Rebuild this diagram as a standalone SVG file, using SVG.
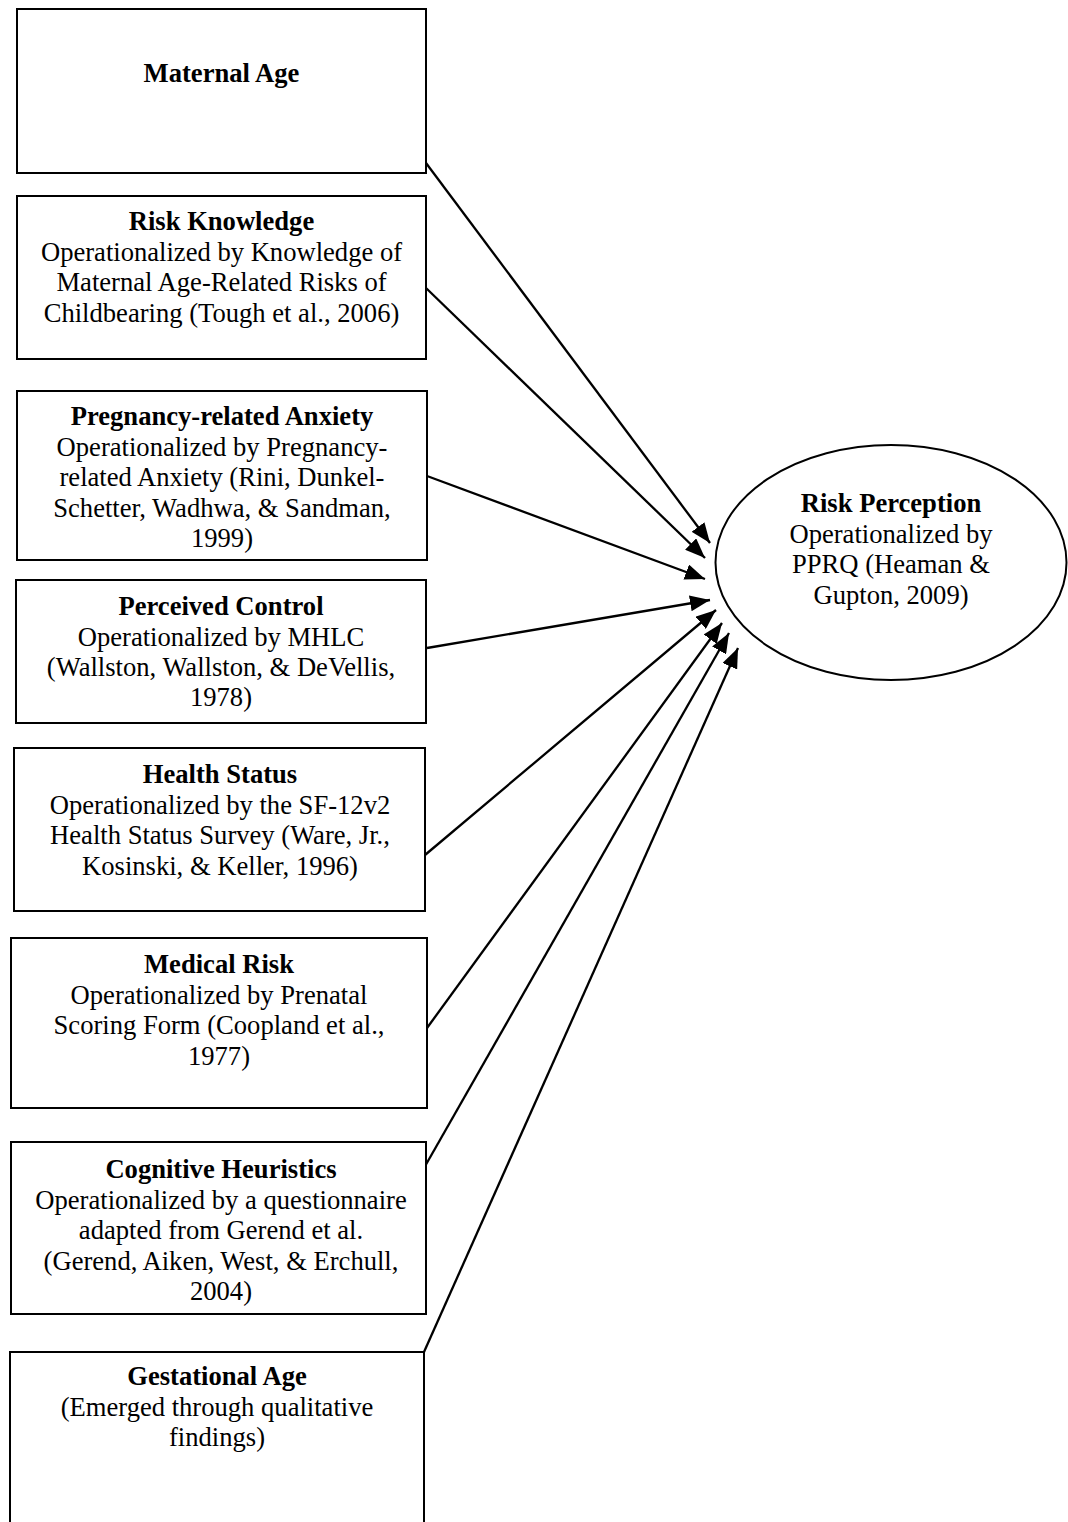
<svg xmlns="http://www.w3.org/2000/svg" width="1068" height="1522" viewBox="0 0 1068 1522">
<style>
.box{fill:#fff;stroke:#000;stroke-width:2}
.t{font-family:"Liberation Serif","Times New Roman",serif;font-size:26.6px;fill:#000;text-anchor:middle}
.b{font-weight:bold}
.c{fill:none;stroke:#000;stroke-width:2.3}
</style>
<defs>
<marker id="ah" markerUnits="userSpaceOnUse" markerWidth="21" markerHeight="16" refX="20" refY="8" orient="auto">
<path d="M0,0 L20,8 L0,16 z" fill="#000"/>
</marker>
</defs>
<rect width="1068" height="1522" fill="#fff"/>
<g id="connectors">
<line class="c" x1="426" y1="163" x2="710" y2="543" marker-end="url(#ah)"/>
<line class="c" x1="426" y1="288" x2="705" y2="558" marker-end="url(#ah)"/>
<line class="c" x1="427" y1="476" x2="705" y2="579" marker-end="url(#ah)"/>
<line class="c" x1="427" y1="648" x2="710" y2="600" marker-end="url(#ah)"/>
<line class="c" x1="425" y1="855" x2="716" y2="610" marker-end="url(#ah)"/>
<line class="c" x1="427" y1="1028" x2="722" y2="623" marker-end="url(#ah)"/>
<line class="c" x1="424" y1="1168" x2="729" y2="633" marker-end="url(#ah)"/>
<line class="c" x1="424" y1="1352" x2="738" y2="648" marker-end="url(#ah)"/>
</g>
<g id="maternal-age">
<rect class="box" x="17" y="9" width="409" height="164"/>
<text class="t b" x="221.5" y="82">Maternal Age</text>
</g>
<g id="risk-knowledge">
<rect class="box" x="17" y="196" width="409" height="163"/>
<text class="t b" x="221.5" y="230">Risk Knowledge</text>
<text class="t" x="221.5" y="260.5">Operationalized by Knowledge of</text>
<text class="t" x="221.5" y="291">Maternal Age-Related Risks of</text>
<text class="t" x="221.5" y="321.5">Childbearing (Tough et al., 2006)</text>
</g>
<g id="pregnancy-anxiety">
<rect class="box" x="17" y="391" width="410" height="169"/>
<text class="t b" x="222" y="425">Pregnancy-related Anxiety</text>
<text class="t" x="222" y="455.5">Operationalized by Pregnancy-</text>
<text class="t" x="222" y="486">related Anxiety (Rini, Dunkel-</text>
<text class="t" x="222" y="516.5">Schetter, Wadhwa, &amp; Sandman,</text>
<text class="t" x="222" y="547">1999)</text>
</g>
<g id="perceived-control">
<rect class="box" x="16" y="580" width="410" height="143"/>
<text class="t b" x="221" y="615">Perceived Control</text>
<text class="t" x="221" y="645.5">Operationalized by MHLC</text>
<text class="t" x="221" y="676">(Wallston, Wallston, &amp; DeVellis,</text>
<text class="t" x="221" y="706">1978)</text>
</g>
<g id="health-status">
<rect class="box" x="14" y="748" width="411" height="163"/>
<text class="t b" x="220" y="783">Health Status</text>
<text class="t" x="220" y="813.5">Operationalized by the SF-12v2</text>
<text class="t" x="220" y="844">Health Status Survey (Ware, Jr.,</text>
<text class="t" x="220" y="874.5">Kosinski, &amp; Keller, 1996)</text>
</g>
<g id="medical-risk">
<rect class="box" x="11" y="938" width="416" height="170"/>
<text class="t b" x="219" y="973">Medical Risk</text>
<text class="t" x="219" y="1003.5">Operationalized by Prenatal</text>
<text class="t" x="219" y="1034">Scoring Form (Coopland et al.,</text>
<text class="t" x="219" y="1064.5">1977)</text>
</g>
<g id="cognitive-heuristics">
<rect class="box" x="11" y="1142" width="415" height="172"/>
<text class="t b" x="221" y="1178">Cognitive Heuristics</text>
<text class="t" x="221" y="1208.5">Operationalized by a questionnaire</text>
<text class="t" x="221" y="1239">adapted from Gerend et al.</text>
<text class="t" x="221" y="1269.5">(Gerend, Aiken, West, &amp; Erchull,</text>
<text class="t" x="221" y="1300">2004)</text>
</g>
<g id="gestational-age">
<rect class="box" x="10" y="1352" width="414" height="180"/>
<text class="t b" x="217" y="1385">Gestational Age</text>
<text class="t" x="217" y="1415.5">(Emerged through qualitative</text>
<text class="t" x="217" y="1446">findings)</text>
</g>
<g id="risk-perception">
<ellipse class="box" cx="891" cy="562.5" rx="175.5" ry="117.5"/>
<text class="t b" x="891" y="512">Risk Perception</text>
<text class="t" x="891" y="542.5">Operationalized by</text>
<text class="t" x="891" y="573">PPRQ (Heaman &amp;</text>
<text class="t" x="891" y="603.5">Gupton, 2009)</text>
</g>
</svg>
